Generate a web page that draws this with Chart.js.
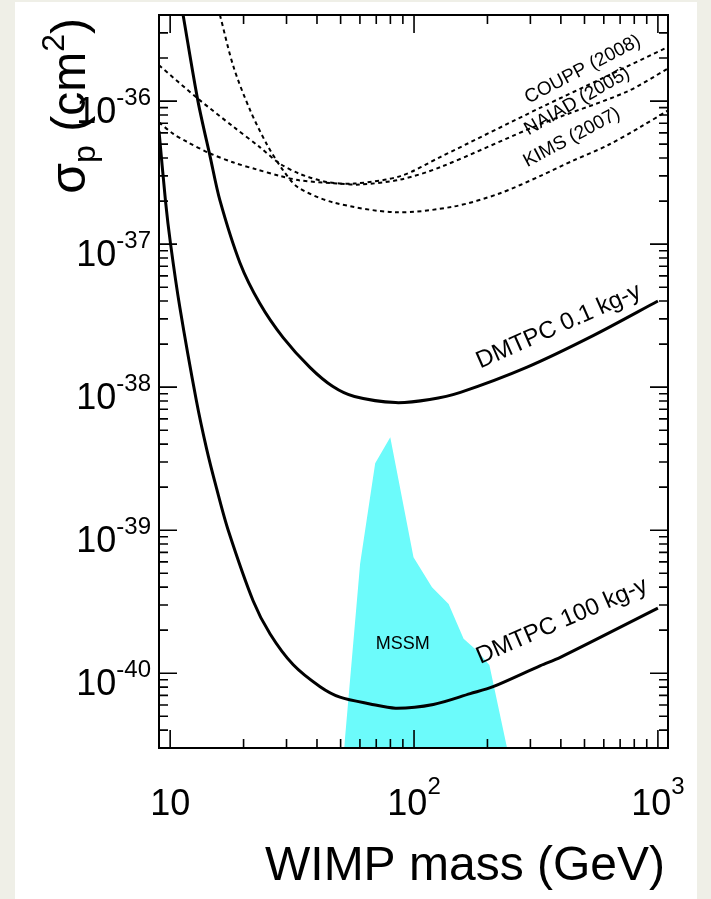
<!DOCTYPE html>
<html>
<head>
<meta charset="utf-8">
<script src="https://cdn.jsdelivr.net/npm/chart.js@4.4.1/dist/chart.umd.min.js"></script>
<style>
  html, body { margin: 0; padding: 0; background: #efefe7; }
  canvas { display: block; }
</style>
</head>
<body>
<canvas id="chart" width="711" height="899"></canvas>
<script>
// Values: WIMP mass (GeV) and sigma_p (cm^2)
const dmtpcLowMass  = [11.3, 13.0, 14.6, 16.0, 19.3, 23.3, 29.0, 37.5, 46.5, 57, 84, 116, 155, 291, 545, 1000];
const dmtpcLowSigma = [4.0e-36, 1.0e-36, 4.06e-37, 2.02e-37, 7.45e-38, 3.86e-38, 2.23e-38, 1.37e-38, 1.01e-38, 8.6e-39, 7.8e-39, 8.2e-39, 9.2e-39, 1.38e-38, 2.3e-38, 4.0e-38];

const dmtpcHighMass  = [9.0, 9.57, 10.04, 10.96, 12.8, 14.1, 15.5, 17.3, 21.9, 25.7, 31.9, 41.2, 49.7, 66, 84, 120, 170, 211, 330, 398, 1000];
const dmtpcHighSigma = [6.2e-37, 2.0e-37, 1.0e-37, 3.6e-38, 8.1e-39, 3.72e-39, 1.96e-39, 1.0e-39, 3.2e-40, 1.88e-40, 1.15e-40, 8.05e-41, 6.8e-41, 6.1e-41, 5.7e-41, 6.05e-41, 7.2e-41, 8.05e-41, 1.13e-40, 1.29e-40, 2.85e-40];

const couppMass  = [9.0, 13.0, 18.2, 23.3, 28.2, 34.0, 43.9, 56.8, 88, 128, 330, 621, 1100];
const couppSigma = [1.78e-36, 1.04e-36, 6.6e-37, 4.77e-37, 3.65e-37, 3.1e-37, 2.72e-37, 2.65e-37, 2.99e-37, 4.06e-37, 9.0e-37, 1.5e-36, 2.39e-36];

const naiadMass  = [9.0, 10.3, 11.7, 14.6, 18.2, 22.6, 28.2, 34.0, 46.7, 60, 88, 128, 330, 743, 1100];
const naiadSigma = [7.1e-37, 5.9e-37, 5.2e-37, 4.3e-37, 3.72e-37, 3.33e-37, 3.0e-37, 2.79e-37, 2.67e-37, 2.61e-37, 2.83e-37, 3.45e-37, 6.9e-37, 1.16e-36, 1.69e-36];

const kimsMass  = [16.0, 18.2, 21.3, 24.9, 29.1, 33.4, 46.5, 84, 145, 224, 330, 451, 621, 849, 1100];
const kimsSigma = [4.0e-36, 1.73e-36, 8.6e-37, 5.0e-37, 3.27e-37, 2.5e-37, 1.96e-37, 1.67e-37, 1.83e-37, 2.26e-37, 3.0e-37, 3.85e-37, 4.9e-37, 6.6e-37, 8.6e-37];

// upper edge of the MSSM region (filled down to the axis)
const mssmMass  = [51.7, 60.1, 69.3, 79.9, 99.5, 118.5, 138.6, 159.7, 181.8, 203.7, 240.7];
const mssmSigma = [3e-41, 5.82e-40, 2.94e-39, 4.47e-39, 6.47e-40, 3.99e-40, 3.05e-40, 1.74e-40, 1.43e-40, 1.14e-40, 3e-41];

// tick labels
const xTickValues = [10, 100, 1000];
const xTickLabels = ['10', '10^2', '10^3'];
const yTickValues = [1e-36, 1e-37, 1e-38, 1e-39, 1e-40];
const yTickLabels = ['10^-36', '10^-37', '10^-38', '10^-39', '10^-40'];

const FONT = "'Liberation Sans', Arial, Helvetica, sans-serif";

// text placed along the curves (anchored in data space)
const notes = [
  { text: 'DMTPC 0.1 kg-y', x: 187, y: 1.35e-38, angle: 24, size: 24 },
  { text: 'DMTPC 100 kg-y', x: 187, y: 1.16e-40, angle: 23.5, size: 24 },
  { text: 'COUPP (2008)', x: 295, y: 9.6e-37, angle: 27.6, size: 19 },
  { text: 'NAIAD (2005)', x: 295, y: 5.75e-37, angle: 30, size: 19 },
  { text: 'KIMS (2007)', x: 291, y: 3.45e-37, angle: 28, size: 19 },
  { text: 'MSSM', x: 89.9, y: 1.48e-40, angle: 0, size: 18, center: true }
];

function pts(xs, ys) {
  return xs.map((v, i) => ({ x: v, y: ys[i] }));
}

// draws "10^n" with a raised exponent
function powerLabel(ctx, label, x, y, align, size, supSize, rise) {
  const parts = label.split('^');
  ctx.font = size + 'px ' + FONT;
  const w1 = ctx.measureText(parts[0]).width;
  ctx.font = supSize + 'px ' + FONT;
  const w2 = parts[1] ? ctx.measureText(parts[1]).width : 0;
  let x0 = x;
  if (align === 'center') x0 = x - (w1 + w2) / 2;
  if (align === 'right') x0 = x - (w1 + w2);
  ctx.textAlign = 'left';
  ctx.textBaseline = 'alphabetic';
  ctx.font = size + 'px ' + FONT;
  ctx.fillText(parts[0], x0, y);
  if (parts[1]) {
    ctx.font = supSize + 'px ' + FONT;
    ctx.fillText(parts[1], x0 + w1, y - rise);
  }
}

function logSteps(min, max) {
  const out = [];
  for (let e = Math.floor(Math.log10(min)); e <= Math.ceil(Math.log10(max)); e++) {
    for (let k = 1; k <= 9; k++) {
      const v = k * Math.pow(10, e);
      if (v >= min * 0.999 && v <= max * 1.001) out.push({ v: v, major: k === 1 });
    }
  }
  return out;
}

const pageBg = {
  id: 'pageBg',
  beforeDraw(chart) {
    const ctx = chart.ctx;
    ctx.save();
    ctx.fillStyle = '#efefe7';
    ctx.fillRect(0, 0, chart.width, chart.height);
    ctx.fillStyle = '#ffffff';
    ctx.fillRect(15, 2, 682, chart.height - 2);
    ctx.restore();
  }
};

// ROOT style frame: box, inward ticks on all four sides, labels
const rootFrame = {
  id: 'rootFrame',
  afterDatasetsDraw(chart) {
    const ctx = chart.ctx;
    const a = chart.chartArea;
    const xs = chart.scales.x, ys = chart.scales.y;
    ctx.save();
    ctx.strokeStyle = '#000';
    ctx.fillStyle = '#000';

    ctx.lineWidth = 1.6;
    ctx.beginPath();
    logSteps(xs.min, xs.max).forEach(t => {
      const p = xs.getPixelForValue(t.v);
      const len = t.major ? 18 : 9;
      ctx.moveTo(p, a.bottom); ctx.lineTo(p, a.bottom - len);
      ctx.moveTo(p, a.top); ctx.lineTo(p, a.top + len);
    });
    logSteps(ys.min, ys.max).forEach(t => {
      const p = ys.getPixelForValue(t.v);
      const len = t.major ? 18 : 9;
      ctx.moveTo(a.left, p); ctx.lineTo(a.left + len, p);
      ctx.moveTo(a.right, p); ctx.lineTo(a.right - len, p);
    });
    ctx.stroke();

    ctx.lineWidth = 2;
    ctx.strokeRect(a.left, a.top, a.right - a.left, a.bottom - a.top);

    xTickValues.forEach((v, i) => {
      powerLabel(ctx, xTickLabels[i], xs.getPixelForValue(v), a.bottom + 67, 'center', 36, 24, 21);
    });
    yTickValues.forEach((v, i) => {
      const p = ys.getPixelForValue(v);
      powerLabel(ctx, yTickLabels[i], 151, p + 22, 'right', 36, 24, 18);
    });

    // axis titles
    ctx.font = '48px ' + FONT;
    ctx.textAlign = 'right';
    ctx.fillText('WIMP mass (GeV)', 665, 880);

    const pieces = [
      { t: '\u03C3', s: 50, dy: 0 },
      { t: 'p', s: 32, dy: 10 },
      { t: ' (cm', s: 48, dy: 0 },
      { t: '2', s: 32, dy: -21 },
      { t: ')', s: 48, dy: 0 }
    ];
    let total = 0;
    pieces.forEach(pc => { ctx.font = pc.s + 'px ' + FONT; pc.w = ctx.measureText(pc.t).width; total += pc.w; });
    ctx.save();
    ctx.translate(85, 18 + total);
    ctx.rotate(-Math.PI / 2);
    ctx.textAlign = 'left';
    let cx = 0;
    pieces.forEach(pc => {
      ctx.font = pc.s + 'px ' + FONT;
      ctx.fillText(pc.t, cx, pc.dy);
      cx += pc.w;
    });
    ctx.restore();

    // curve annotations
    notes.forEach(n => {
      ctx.save();
      ctx.translate(xs.getPixelForValue(n.x), ys.getPixelForValue(n.y));
      ctx.rotate(-n.angle * Math.PI / 180);
      ctx.font = n.size + 'px ' + FONT;
      ctx.textAlign = n.center ? 'center' : 'left';
      ctx.textBaseline = 'alphabetic';
      ctx.fillText(n.text, 0, 0);
      ctx.restore();
    });
    ctx.restore();
  }
};

const solid = { borderColor: '#000', borderWidth: 3, pointRadius: 0, fill: false, tension: 0.3 };
const dashed = { borderColor: '#000', borderWidth: 2, borderDash: [4, 3.5], pointRadius: 0, fill: false, tension: 0.3 };

new Chart(document.getElementById('chart'), {
  type: 'line',
  data: {
    datasets: [
      Object.assign({ label: 'DMTPC 0.1 kg-y', data: pts(dmtpcLowMass, dmtpcLowSigma) }, solid),
      Object.assign({ label: 'DMTPC 100 kg-y', data: pts(dmtpcHighMass, dmtpcHighSigma) }, solid),
      Object.assign({ label: 'COUPP (2008)', data: pts(couppMass, couppSigma) }, dashed),
      Object.assign({ label: 'NAIAD (2005)', data: pts(naiadMass, naiadSigma) }, dashed),
      Object.assign({ label: 'KIMS (2007)', data: pts(kimsMass, kimsSigma) }, dashed),
      {
        label: 'MSSM',
        data: pts(mssmMass, mssmSigma),
        borderWidth: 0,
        borderColor: 'rgba(0,0,0,0)',
        backgroundColor: '#6cfbfb',
        pointRadius: 0,
        fill: 'start',
        tension: 0
      }
    ]
  },
  options: {
    responsive: false,
    animation: false,
    layout: { padding: { left: 159, right: 43, top: 15, bottom: 151 } },
    plugins: { legend: { display: false }, tooltip: { enabled: false } },
    scales: {
      x: { type: 'logarithmic', min: 9.0, max: 1100, display: false },
      y: { type: 'logarithmic', min: 3e-41, max: 4e-36, display: false }
    }
  },
  plugins: [pageBg, rootFrame]
});
</script>
</body>
</html>
